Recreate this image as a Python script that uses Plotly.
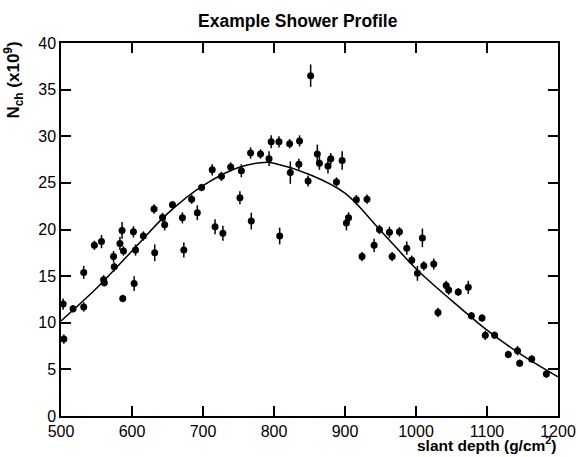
import plotly.graph_objects as go

# measured points: slant depth (g/cm^2), N_ch (x10^9), error
depth = [503, 504, 517, 532, 532, 547, 557, 560, 561, 574, 575, 583, 586, 587, 588,
         602, 603, 605, 616, 631, 632, 643, 646, 657, 671, 673, 684, 692, 698, 713,
         717, 726, 728, 739, 752, 754, 767, 768, 781, 793, 796, 807, 808, 822, 823,
         835, 836, 848, 851.6, 861, 864, 876, 880, 888, 896, 902, 905, 916, 924, 931,
         941, 948.5, 962.6, 966.4, 976.7, 987, 994, 1002, 1009, 1011, 1025, 1031,
         1042.5, 1046, 1059.5, 1073.6, 1078, 1093, 1097.6, 1110.7, 1130, 1143, 1146,
         1163, 1183.6]
nch = [12.0, 8.25, 11.5, 15.4, 11.7, 18.3, 18.7, 14.6, 14.3, 17.1, 16.0, 18.5, 19.9, 12.6, 17.7,
       19.75, 14.2, 17.8, 19.3, 22.2, 17.5, 21.3, 20.5, 22.65, 21.25, 17.8, 23.25, 21.8, 24.5, 26.4,
       20.3, 25.7, 19.6, 26.7, 23.4, 26.3, 28.2, 20.9, 28.1, 27.6, 29.4, 29.4, 19.3, 29.2, 26.1,
       27.0, 29.5, 25.2, 36.5, 28.1, 27.1, 26.8, 27.6, 25.1, 27.4, 20.7, 21.25, 23.2, 17.1, 23.25,
       18.3, 20.0, 19.7, 17.1, 19.75, 18.0, 16.7, 15.3, 19.1, 16.1, 16.3, 11.1,
       14.0, 13.5, 13.3, 13.8, 10.75, 10.5, 8.65, 8.65, 6.6, 7.0, 5.65,
       6.1, 4.5]
err = [0.6, 0.5, 0.4, 0.7, 0.5, 0.5, 0.7, 0.5, 0.4, 0.6, 0.5, 0.7, 0.9, 0.4, 0.5,
       0.6, 0.8, 0.6, 0.5, 0.5, 0.9, 0.5, 0.6, 0.4, 0.6, 0.8, 0.5, 0.8, 0.4, 0.6,
       0.8, 0.5, 0.8, 0.5, 0.7, 0.7, 0.6, 0.9, 0.5, 0.8, 0.7, 0.6, 0.9, 0.5, 1.2,
       0.6, 0.6, 0.6, 1.2, 1.0, 0.7, 0.8, 0.6, 0.5, 1.0, 0.8, 0.6, 0.5, 0.5, 0.5,
       0.7, 0.5, 0.6, 0.5, 0.5, 0.7, 0.5, 0.8, 1.0, 0.5, 0.6, 0.5,
       0.5, 0.5, 0.4, 0.7, 0.4, 0.4, 0.5, 0.4, 0.4, 0.5, 0.4,
       0.4, 0.4]

# fitted profile
fit_depth = [500, 550, 600, 650, 700, 750, 790, 800, 850, 900, 950, 1000, 1050, 1100, 1150, 1200]
fit_nch = [10.2, 13.7, 17.7, 21.7, 24.7, 26.65, 27.2, 27.1, 25.9, 23.9, 19.9, 15.8, 12.4, 9.2, 6.5, 4.2]

FONT = "Liberation Sans, Arial, sans-serif"

fig = go.Figure()
fig.add_trace(go.Scatter(
    x=fit_depth, y=fit_nch, mode="lines",
    line=dict(color="black", width=1.5, shape="spline", smoothing=1.0),
    hoverinfo="skip", showlegend=False))
fig.add_trace(go.Scatter(
    x=depth, y=nch, mode="markers",
    marker=dict(color="black", size=7, symbol="circle"),
    error_y=dict(type="data", array=err, visible=True, color="black", thickness=1.5, width=0),
    showlegend=False))

fig.update_layout(
    width=578, height=457,
    margin=dict(l=61, r=20, t=43, b=41, autoexpand=False),
    paper_bgcolor="white", plot_bgcolor="white",
    font=dict(family=FONT, color="black"),
    xaxis=dict(range=[500, 1200], tickmode="linear", tick0=500, dtick=100,
               showgrid=False, zeroline=False, showline=True, linecolor="black", linewidth=1.5,
               ticks="inside", ticklen=10, tickwidth=2, tickcolor="#000000", mirror="allticks",
               tickfont=dict(family=FONT, size=16, color="black")),
    yaxis=dict(range=[0, 40], tickmode="linear", tick0=0, dtick=5,
               showgrid=False, zeroline=False, showline=True, linecolor="black", linewidth=1.5,
               ticks="inside", ticklen=10, tickwidth=2, tickcolor="#000000", mirror="allticks",
               tickfont=dict(family=FONT, size=16, color="black")),
    annotations=[
        dict(text="Example Shower Profile", xref="paper", yref="paper",
             x=0.477, y=1.058, xanchor="center", yanchor="middle", showarrow=False,
             font=dict(family=FONT, size=17.5, color="black", weight="bold")),
        dict(text="slant depth (g/cm<sup>2</sup>)", xref="paper", yref="paper",
             x=1.003, y=-0.075, xanchor="right", yanchor="middle", showarrow=False,
             font=dict(family=FONT, size=15.5, color="black", weight="bold")),
        dict(text="N<sub>ch</sub> (x10<sup>9</sup>)", xref="paper", yref="paper",
             x=-0.095, y=1.01, xanchor="center", yanchor="top", textangle=-90, showarrow=False,
             font=dict(family=FONT, size=17, color="black", weight="bold")),
    ],
)

fig.write_html("out.html", config={"displayModeBar": False},
               post_script="document.body.style.margin='0';document.body.style.padding='0';")
